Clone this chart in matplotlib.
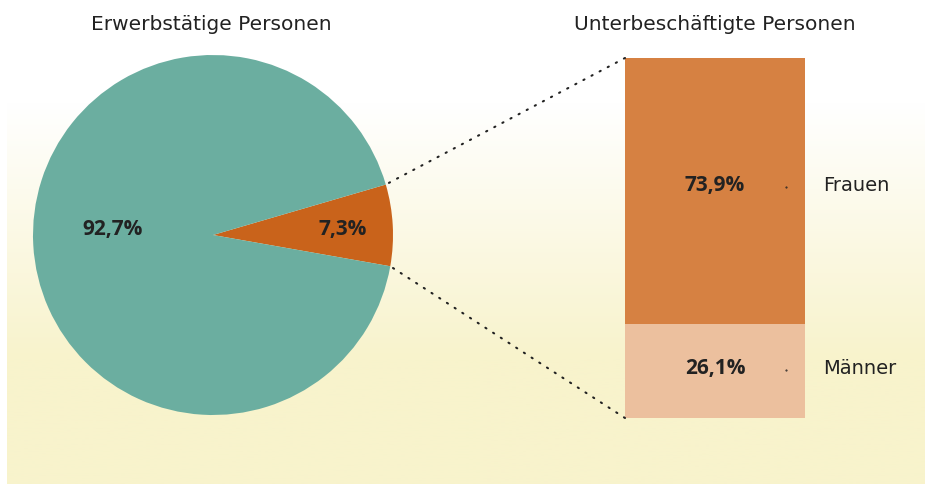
import numpy as np
import matplotlib.pyplot as plt
from matplotlib.patches import ConnectionPatch

plt.rcParams['font.family'] = ['DejaVu Sans']

# Data
pie_labels = ["Unterbeschäftigt", "Erwerbstätig"]
pie_values = [7.3, 92.7]
pie_texts = ["7,3%", "92,7%"]
bar_labels = ["Männer", "Frauen"]
bar_values = [26.1, 73.9]
bar_texts = ["26,1%", "73,9%"]

pie_colors = ["#C9631B", "#6BAEA0"]
bar_colors = ["#ECC09E", "#D68142"]
text_dark = "#222222"
pct_font = dict(family=['Open Sans', 'DejaVu Sans'], fontweight='bold', fontsize=15)

W, H = 925, 486
fig = plt.figure(figsize=(W / 100, H / 100), dpi=100)

# Background gradient: white on top, pale yellow below
bg = fig.add_axes([7 / W, 2 / H, 1 - 7 / W, 1 - 2 / H], zorder=-10)
ys = np.linspace(0, 1, 300)
top = np.array([1.0, 1.0, 1.0])
bot = np.array([0xF8, 0xF3, 0xCC]) / 255
frac = np.clip((ys * H - 105) / 255, 0, 1)  # row 0 = top
grad = top[None, :] * (1 - frac[:, None]) + bot[None, :] * frac[:, None]
bg.imshow(grad[:, None, :], aspect='auto', extent=[0, 1, 0, 1])
bg.set_axis_off()

# Pie
r_px = 180
cx, cy = 213, 235
ax1 = fig.add_axes([(cx - r_px) / W, (H - cy - r_px) / H, 2 * r_px / W, 2 * r_px / H])
wedges, _ = ax1.pie(pie_values, colors=pie_colors, startangle=-10, radius=1,
                    wedgeprops=dict(linewidth=0))
ax1.set_xlim(-1, 1)
ax1.set_ylim(-1, 1)
ax1.set_aspect('equal')
ax1.set_axis_off()
ax1.text(0.72, 0.03, pie_texts[0], ha='center', va='center', color=text_dark, **pct_font)
ax1.text(-0.56, 0.03, pie_texts[1], ha='center', va='center', color=text_dark, **pct_font)

# Stacked bar
ax2 = fig.add_axes([625 / W, (H - 418) / H, 180 / W, 360 / H])
bottom = 0
offsets = {"Männer": 0.6, "Frauen": 1.4}
for val, col, txt, lab in zip(bar_values, bar_colors, bar_texts, bar_labels):
    ax2.bar(0, val, width=1, bottom=bottom, color=col, linewidth=0)
    ty = bottom + val / 2 + offsets[lab]
    ax2.text(0, ty, txt, ha='center', va='center', color=text_dark, **pct_font)
    ax2.plot(0.395, ty - 0.3, marker='.', markersize=1, color=text_dark)
    ax2.text(0.6, ty, lab, ha='left', va='center', fontsize=14, color=text_dark)
    bottom += val
ax2.set_xlim(-0.5, 0.5)
ax2.set_ylim(0, 100)
ax2.set_axis_off()

fig.text(211 / W, 1 - 25 / H, "Erwerbstätige Personen", ha='center', va='center',
         fontsize=14.5, color=text_dark)
fig.text(715 / W, 1 - 25 / H, "Unterbeschäftigte Personen", ha='center', va='center',
         fontsize=14.5, color=text_dark)

# Dotted connectors from the small slice to the bar
w = wedges[0]
for ang, ybar in [(w.theta2, 100), (w.theta1, 0)]:
    xp = w.r * np.cos(np.radians(ang))
    yp = w.r * np.sin(np.radians(ang))
    con = ConnectionPatch(xyA=(-0.5, ybar), coordsA=ax2.transData,
                          xyB=(xp, yp), coordsB=ax1.transData,
                          color=text_dark, linewidth=1.5, linestyle=(0, (0.6, 3.8)))
    fig.add_artist(con)

fig.savefig("out.png", dpi=100)
